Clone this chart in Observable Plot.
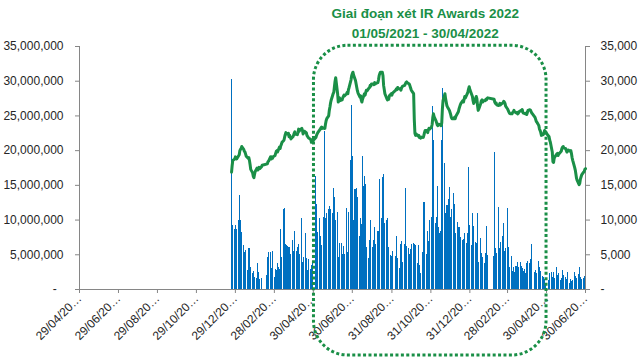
<!DOCTYPE html>
<html><head><meta charset="utf-8">
<script src="https://cdn.jsdelivr.net/npm/d3@7"></script>
<script src="https://cdn.jsdelivr.net/npm/@observablehq/plot@0.6"></script>
<style>html,body{margin:0;padding:0;background:#fff}svg{display:block}</style>
</head><body><div id="chart"></div>
<script>
// ---- data ----
const firstTradingDay = "2020-12-23";
const lastTradingDay = "2022-06-30";
const holidays = ["2021-01-01","2021-02-10","2021-02-11","2021-02-12","2021-02-15","2021-02-16",
  "2021-04-21","2021-04-30","2021-05-03","2021-09-02","2021-09-03","2022-01-03",
  "2022-01-31","2022-02-01","2022-02-02","2022-02-03","2022-02-04","2022-04-11","2022-05-02","2022-05-03"];

// daily trading volume, millions of shares (one line per week)
const volumeMillions = [
  30.2, 8.8, 9.2,
  8.6, 8.4, 9.2, 8.6,
  9.9, 13.6, 9.9, 9.6, 8.2,
  6.3, 6.1, 5.4, 5.6, 4.2,
  2.7, 3.7, 5.9, 5.9, 3.1,
  2.3, 1.4, 2.6, 1.8, 1.2,
  1.6, 2.6, 3.7, 2.5, 1.5,
  1.6, 1.2,
  2.0, 4.6, 5.4,
  5.4, 2.3, 3.0, 2.5, 5.5,
  1.8, 1.6, 2.9, 2.7, 3.7,
  3.2, 2.9, 4.0, 8.6, 4.6,
  11.5, 6.5, 11.7, 6.5, 6.3,
  6.2, 6.0, 5.6, 6.0, 5.1,
  7.0, 5.5, 4.8, 8.3, 5.9,
  5.5, 6.0, 6.5, 4.6, 5.0,
  10.2, 4.6, 3.9, 4.2, 4.6,
  8.1, 4.5, 2.8, 4.3,
  2.8, 2.9, 3.4, 3.8,
  16.3, 12.3, 8.3, 8.2,
  8.4, 10.2, 7.6, 6.2, 6.3,
  10.3, 22.8, 11.6, 10.2, 10.9,
  9.2, 11.5, 12.0, 11.5, 10.9,
  10.9, 13.7, 14.6, 13.2, 9.9,
  4.6, 11.1, 4.6, 6.2, 6.6,
  6.6, 4.8, 5.0, 6.2, 5.0,
  11.6, 5.4, 5.3, 5.2, 11.1,
  18.6, 26.5, 15.1, 19.1, 10.0,
  14.4, 13.3, 14.6, 12.0, 13.3,
  7.7, 10.2, 6.5, 9.3, 19.2,
  14.8, 16.3, 15.1, 12.9, 6.0,
  4.5, 5.2, 7.1, 6.7, 10.0,
  6.1, 7.1, 8.9, 7.8, 6.5,
  8.0, 8.4, 8.3, 15.9, 11.1,
  10.2, 16.2, 16.6, 9.7, 9.5,
  7.3, 9.9, 10.2, 6.1, 4.0,
  4.9, 4.7, 5.5,
  3.0, 4.7, 7.6, 4.4, 4.3,
  3.0, 6.5, 5.4, 6.9, 3.9,
  4.5, 6.5, 14.5, 6.2, 4.1,
  5.9, 4.4, 5.1, 5.7, 6.5,
  6.6, 5.6, 6.5, 6.3, 5.7,
  3.7, 6.3, 3.5, 3.5, 2.3,
  2.3, 5.4, 4.1, 12.6, 4.9,
  5.1, 7.1, 8.3, 6.9, 10.0,
  6.1, 10.4, 26.4, 9.0, 21.5,
  9.5, 10.4, 8.6, 14.8, 9.0,
  8.0, 8.3, 9.4, 21.5, 28.9,
  18.2, 11.0, 10.6, 9.9, 12.1,
  13.0, 14.7, 8.0, 10.4, 11.5,
  13.8, 12.3, 9.5, 8.0, 7.8,
  9.6, 9.0, 6.8, 9.0, 7.5,
  4.6, 7.1, 7.2, 8.0, 7.0,
  6.6, 8.0, 14.5, 17.6, 9.2,
  6.3, 10.9, 9.1, 6.8,
  6.8, 6.6, 11.0, 5.0, 3.9,
  7.3, 3.6, 5.2, 4.6, 4.4,
  3.8, 5.2, 4.4, 9.1, 4.9,
  4.7, 19.8, 6.5, 5.9, 5.2,
  11.8, 6.3, 5.9, 6.7, 4.2,
  7.6, 9.5, 6.1, 5.5, 5.9,
  8.8, 11.7, 6.1, 4.2, 3.2,
  4.8, 2.6, 1.8, 3.2, 2.5,
  3.3, 2.4, 3.9, 2.7, 3.1,
  3.9, 2.0, 3.3, 3.0, 2.6,
  2.9, 2.3, 3.6, 3.8, 4.0,
  3.7, 4.3, 4.2, 6.5, 2.3,
  2.4, 2.8, 2.7, 2.3,
  4.0, 3.2, 3.0, 2.3, 2.6,
  1.9, 1.8, 1.3, 1.5, 0.8,
  1.3, 1.1, 2.3,
  2.5, 1.8, 2.2, 2.4, 1.6,
  1.9, 3.2, 2.0, 1.7, 2.3,
  1.3, 1.6, 1.3, 2.8, 2.0,
  1.8, 1.1, 1.4, 1.3, 2.4,
  0.9, 1.2, 1.5, 1.1, 1.3,
  1.8, 2.4, 1.9, 1.6, 1.3,
  2.1, 3.1, 2.2, 1.8, 1.4,
  1.3, 1.6, 1.5, 1.9
];

// daily closing price, thousands of VND (one line per week)
const priceThousands = [
  16.9, 17.9, 18.6,
  18.8, 19.1, 18.9, 18.8,
  19.4, 20.0, 20.2, 20.3, 20.6,
  20.2, 19.9, 19.8, 19.5, 19.2,
  18.9, 19.0, 18.6, 18.0, 17.3,
  16.8, 16.3, 16.1, 16.6, 17.0,
  17.5, 17.2, 17.4, 17.6, 17.4,
  17.7, 17.9,
  18.1, 18.4, 18.5,
  19.1, 18.8, 19.1, 18.9, 19.1,
  19.3, 19.6, 19.9, 20.0, 19.8,
  20.5, 20.3, 20.7, 20.9, 21.2,
  21.5, 21.9, 22.3, 22.6, 22.4,
  22.5, 22.0, 22.2, 21.9, 21.7,
  22.0, 22.2, 22.5, 22.7, 22.4,
  22.3, 22.6, 23.1, 22.8, 23.0,
  23.2, 22.9, 22.4, 22.6, 22.8,
  22.6, 22.2, 21.9, 21.8,
  21.6, 21.2, 21.5, 21.4,
  21.9, 22.2, 22.4, 22.6,
  23.0, 23.1, 23.3, 23.4, 23.2,
  23.3, 23.2, 23.8, 24.3, 24.6,
  25.0, 25.8, 26.3, 26.9, 27.3,
  28.2, 28.4, 29.2, 30.0, 30.5,
  28.2, 27.0, 27.4, 27.6, 27.2,
  27.3, 27.6, 27.8, 28.0, 27.9,
  28.2, 28.4, 28.2, 28.8, 29.1,
  30.2, 30.8, 31.1, 31.3, 30.9,
  30.1, 29.6, 29.1, 28.6, 28.3,
  27.7, 27.9, 27.3, 27.0, 27.4,
  28.2, 28.0, 28.4, 28.7, 28.6,
  29.0, 29.1, 29.4, 29.3, 29.6,
  29.6, 29.5, 29.8, 29.6, 29.7,
  29.8, 30.2, 30.8, 31.1, 31.3,
  31.3, 30.8, 29.4, 28.8, 28.2,
  27.5, 27.3, 27.6, 27.4, 27.9,
  28.2, 28.0, 28.3,
  28.7, 28.9, 28.8, 29.1, 28.9,
  28.9, 28.7, 29.0, 29.2, 29.3,
  29.4, 29.6, 29.8, 29.9, 29.8,
  29.6, 29.4, 29.1, 28.8, 28.6,
  28.2, 24.5, 22.5, 22.2, 22.4,
  22.1, 22.2, 21.9, 22.0, 21.8,
  22.0, 21.9, 22.2, 22.6, 22.9,
  22.9, 22.6, 23.0, 23.2, 23.1,
  23.4, 23.8, 24.8, 25.3, 24.9,
  24.3, 24.0, 23.7, 23.6, 23.8,
  23.7, 23.6, 24.0, 26.0, 27.2,
  28.2, 27.5, 27.0, 26.5, 26.3,
  25.8, 25.5, 25.2, 24.8, 24.6,
  24.6, 24.8, 24.6, 24.9, 25.1,
  25.6, 26.0, 26.3, 26.6, 26.8,
  27.2, 27.0, 27.4, 27.8, 27.6,
  28.2, 28.5, 28.9, 29.2, 28.8,
  27.8, 27.2, 26.8, 27.0,
  27.8, 27.5, 26.5, 25.8, 26.0,
  26.8, 27.2, 27.3, 27.0, 27.2,
  27.2, 27.4, 27.3, 27.5, 27.6,
  27.4, 27.0, 26.8, 26.9, 26.6,
  26.5, 26.6, 26.8, 26.6, 26.7,
  26.9, 27.1, 27.0, 26.8, 26.4,
  26.0, 25.8, 25.6, 25.4, 25.3,
  25.3, 25.5, 25.6, 25.8, 25.6,
  25.4, 25.5, 25.3, 25.4, 25.6,
  25.8, 25.7, 25.9, 25.5, 25.4,
  25.3, 25.4, 25.2, 25.5, 25.8,
  25.9, 25.8, 25.6, 25.4, 25.3,
  24.8, 24.5, 24.2, 24.1,
  23.6, 23.1, 22.9, 22.6, 22.2,
  22.3, 22.6, 22.9, 22.8, 22.6,
  22.0, 21.5, 21.2,
  19.8, 18.4, 18.3, 18.9, 19.1,
  19.5, 19.6, 19.3, 19.5, 19.6,
  19.9, 20.3, 20.5, 20.6, 20.4,
  20.3, 20.0, 19.8, 20.0, 20.1,
  19.9, 20.0, 19.6, 19.0, 18.6,
  17.6, 17.2, 16.6, 16.0, 15.7,
  15.1, 15.3, 15.9, 16.2, 16.5,
  16.9, 17.0, 17.3, 17.4
];

const xDomain = ["2020-04-29", "2022-06-30"];
const xTickDates = ["2020-04-29","2020-06-29","2020-08-29","2020-10-29","2020-12-29","2021-02-28",
  "2021-04-30","2021-06-30","2021-08-31","2021-10-31","2021-12-31","2022-02-28","2022-04-30","2022-06-30"];
const volumeTicks = [0, 5e6, 10e6, 15e6, 20e6, 25e6, 30e6, 35e6];
const awardPeriod = ["2021-05-01", "2022-04-30"];
const titleLines = ["Giai đoạn xét IR Awards 2022", "01/05/2021 - 30/04/2022"];

// ---- build table ----
const parse = s => new Date(s + "T00:00:00Z");
const DAY = 864e5;
const hol = new Set(holidays);
const dates = [];
for (let t = +parse(firstTradingDay); t <= +parse(lastTradingDay); t += DAY) {
  const d = new Date(t);
  const wd = d.getUTCDay();
  if (wd === 0 || wd === 6 || hol.has(d.toISOString().slice(0, 10))) continue;
  dates.push(d);
}
if (dates.length !== volumeMillions.length || dates.length !== priceThousands.length)
  console.error("length mismatch", dates.length, volumeMillions.length, priceThousands.length);
const n = Math.min(dates.length, volumeMillions.length, priceThousands.length);
const table = d3.range(n).map(i => ({date: dates[i], volume: volumeMillions[i] * 1e6, price: priceThousands[i] * 1e3}));

const green = "#1a8f47";
const axisGray = "#868686";
const textColor = "#262626";
const fmt = d3.format(",");
const mid = new Date((+parse(awardPeriod[0]) + +parse(awardPeriod[1])) / 2);

const chart = Plot.plot({
  width: 640, height: 362,
  marginLeft: 79, marginRight: 55, marginTop: 46, marginBottom: 73,
  style: {fontFamily: "'Liberation Sans', Arial, sans-serif", fontSize: "12px", background: "#fff", overflow: "visible"},
  x: {type: "utc", domain: xDomain.map(parse), axis: null, label: null},
  y: {domain: [0, 35e6], axis: null, label: null},
  marks: [
    Plot.rectY(table, {x1: d => new Date(+d.date - 0.8 * DAY), x2: d => new Date(+d.date + 0.8 * DAY), y: "volume",
      fill: "#0070C0", shapeRendering: "crispEdges"}),
    Plot.ruleY([0], {stroke: axisGray}),
    Plot.ruleX([parse(xDomain[0])], {y1: 0, y2: 35e6, stroke: axisGray}),
    Plot.ruleX([parse(xDomain[1])], {y1: 0, y2: 35e6, stroke: axisGray}),
    Plot.line(table, {x: "date", y: d => d.price * 1000, stroke: green, strokeWidth: 3, strokeLinejoin: "round"}),
    Plot.axisY({anchor: "left", label: null, ticks: volumeTicks, tickSize: 4, tickPadding: 12,
      tickFormat: d => d === 0 ? "-\u00a0\u00a0" : fmt(d), stroke: axisGray, fill: textColor}),
    Plot.axisY({anchor: "right", label: null, ticks: volumeTicks, tickSize: 4, tickPadding: 11,
      tickFormat: d => d === 0 ? "-" : fmt(d / 1000), stroke: axisGray, fill: textColor}),
    Plot.axisX({label: null, ticks: xTickDates.map(parse), tickSize: 4, tickPadding: 3, tickRotate: -45,
      tickFormat: d => d3.utcFormat("%d/%m/%Y")(d).slice(0, 8) + "\u2026", stroke: axisGray, fill: textColor}),
    Plot.rect([awardPeriod], {x1: d => parse(d[0]), x2: d => parse(d[1]), y1: -9.5e6, y2: 35.1e6,
      rx: 34, fill: "none", stroke: green, strokeWidth: 3, strokeDasharray: "3 2.4"}),
    Plot.text([titleLines.join("\n")], {x: () => mid, frameAnchor: "top", lineAnchor: "bottom", dx: -5, dy: -9,
      fill: green, fontWeight: "bold", fontSize: 13.5, lineHeight: 1.45})
  ]
});
document.getElementById("chart").append(chart);
</script>
</body></html>
